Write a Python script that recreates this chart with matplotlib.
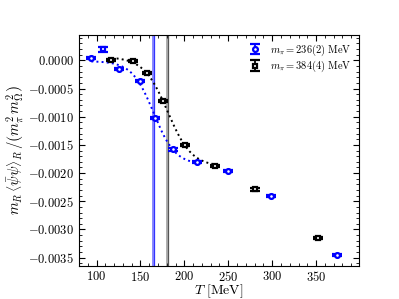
import numpy as np
import matplotlib
matplotlib.use("Agg")
import matplotlib.pyplot as plt
from matplotlib.ticker import MultipleLocator, FuncFormatter

plt.rcParams['font.family'] = 'serif'
plt.rcParams['font.serif'] = ['cmr10']
plt.rcParams['mathtext.fontset'] = 'cm'
plt.rcParams['axes.formatter.use_mathtext'] = True

# m_pi = 236(2) MeV
T_236 = [94, 125, 149, 166, 187, 214, 250, 299, 374]
y_236 = [0.00004, -0.00015, -0.00037, -0.00102, -0.00158, -0.0018, -0.00196, -0.00241, -0.00345]
e_236 = [0.00002, 0.00002, 0.00002, 0.00002, 0.00002, 0.00002, 0.00002, 0.00002, 0.00002]
# excluded point
T_236_out = [107]
y_236_out = [0.000195]
e_236_out = [0.00004]

# m_pi = 384(4) MeV
T_384 = [117, 141, 157, 176, 201, 235, 281, 352]
y_384 = [0.00001, -0.00001, -0.00023, -0.00072, -0.0015, -0.00187, -0.00229, -0.00315]
e_384 = [0.00002, 0.00002, 0.00002, 0.00002, 0.00002, 0.00002, 0.00002, 0.00002]

# pseudo-critical temperatures (band)
Tpc_236, dTpc_236 = 165, 2.0
Tpc_384, dTpc_384 = 181, 2.0

# number of points used in the tanh fit
nfit_236 = 6
nfit_384 = 6


def tanh_fit(T, y, Tpc):
    # y = A + B tanh((T-Tpc)/d), grid in d, linear in A, B
    T = np.asarray(T, float)
    y = np.asarray(y, float)
    best = None
    for d in np.linspace(5, 60, 300):
        X = np.column_stack([np.ones_like(T), np.tanh((T - Tpc) / d)])
        coef = np.linalg.lstsq(X, y, rcond=None)[0]
        r = np.sum((X @ coef - y) ** 2)
        if best is None or r < best[0]:
            best = (r, d, coef)
    _, d, (A, B) = best
    return lambda t: A + B * np.tanh((t - Tpc) / d)


fig = plt.figure(figsize=(3.99, 2.99), dpi=100)
ax = fig.add_axes([0.198, 0.110, 0.702, 0.773])

# bands
ax.axvspan(Tpc_236 - dTpc_236, Tpc_236 + dTpc_236, color='#8c8cff', lw=0)
ax.axvline(Tpc_236, color='#3333ff', lw=0.9)
ax.axvspan(Tpc_384 - dTpc_384, Tpc_384 + dTpc_384, color='#b0b0b0', lw=0)
ax.axvline(Tpc_384, color='#555555', lw=0.9)

# fit curves
f236 = tanh_fit(T_236[:nfit_236], y_236[:nfit_236], Tpc_236)
tt = np.linspace(T_236[0], T_236[nfit_236 - 1], 200)
ax.plot(tt, f236(tt), ':', color='blue', lw=1.4)
f384 = tanh_fit(T_384[:nfit_384], y_384[:nfit_384], Tpc_384)
tt = np.linspace(T_384[0], T_384[nfit_384 - 1], 200)
ax.plot(tt, f384(tt), ':', color='black', lw=1.4)

kw = dict(ms=3.5, mfc='white', mew=1.6, capsize=3.5, elinewidth=1.3, capthick=1.3)
ax.errorbar(T_236, y_236, yerr=e_236, fmt='o', color='blue',
            label=r'$m_\pi = 236(2)\ \mathrm{MeV}$', **kw)
ax.errorbar(T_236_out, y_236_out, yerr=e_236_out, fmt='s', color='blue', **kw)
ax.errorbar(T_384, y_384, yerr=e_384, fmt='s', color='black',
            label=r'$m_\pi = 384(4)\ \mathrm{MeV}$', **kw)

ax.set_xlim(80, 399)
ax.set_ylim(-0.00365, 0.00045)
ax.xaxis.set_major_locator(MultipleLocator(50))
ax.xaxis.set_minor_locator(MultipleLocator(10))
ax.yaxis.set_major_locator(MultipleLocator(0.0005))
ax.yaxis.set_minor_locator(MultipleLocator(0.0001))
ax.yaxis.set_major_formatter(FuncFormatter(lambda v, _: f"${v:.4f}$".replace("-0.0000", "0.0000")))
ax.xaxis.set_major_formatter(FuncFormatter(lambda v, _: f"${v:.0f}$"))
ax.tick_params(which='both', direction='in', top=True, right=True, labelsize=9)
ax.tick_params(axis='x', pad=2.5)
ax.tick_params(which='major', length=4)
ax.tick_params(which='minor', length=2)

ax.set_xlabel(r'$T\ [\mathrm{MeV}]$', fontsize=10)
ax.xaxis.set_label_coords(0.5, -0.072)
ax.set_ylabel(r'$m_R\,\left\langle\bar{\psi}\psi\right\rangle_R\,/\left(m_\pi^2\,m_\Omega^2\right)$',
              fontsize=10.5, labelpad=1)

ax.legend(loc='upper right', frameon=False, fontsize=7.5, handlelength=1.0,
          handletextpad=1.0, borderaxespad=0.3, labelspacing=0.15)

fig.savefig('out.png', dpi=100)
